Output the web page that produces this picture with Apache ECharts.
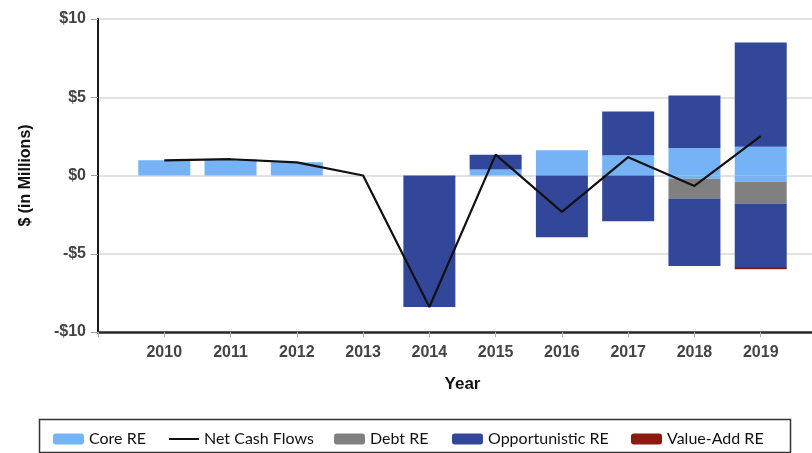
<!DOCTYPE html>
<html>
<head>
<meta charset="utf-8">
<title>Net Cash Flows by Strategy</title>
<script src="https://cdn.jsdelivr.net/npm/echarts@6/dist/echarts.min.js"></script>
<style>
  html, body { margin: 0; padding: 0; background: #ffffff; }
  #chart { width: 812px; height: 453px; }
</style>
</head>
<body>
<div id="chart"></div>
<script>
// Calendar years on the horizontal axis
const years = ['2010', '2011', '2012', '2013', '2014', '2015', '2016', '2017', '2018', '2019'];

// Cash flows in $ millions: distributions (positive) and contributions (negative)
const coreDist        = [0.97, 1.04, 0.84, 0, 0, 0.38, 1.62, 1.30, 1.76, 1.83];
const coreContrib     = [0, 0, 0, 0, 0, 0, 0, 0, -0.21, -0.40];
const debtContrib     = [0, 0, 0, 0, 0, 0, 0, 0, -1.26, -1.39];
const oppDist         = [0, 0, 0, 0, 0, 0.95, 0, 2.79, 3.35, 6.67];
const oppContrib      = [0, 0, 0, 0, -8.4, 0, -3.94, -2.92, -4.31, -4.05];
const valueAddContrib = [0, 0, 0, 0, 0, 0, 0, 0, 0, -0.15];
const netCashFlows    = [0.97, 1.04, 0.84, 0, -8.4, 1.33, -2.32, 1.17, -0.67, 2.51];

// Value axis ticks
const yTicks = [-10, -5, 0, 5, 10];

const COLORS = {
  core: '#76b3f6',
  debt: '#808080',
  opp: '#33479a',
  valueAdd: '#8b1a10',
  net: '#111111'
};

// The axis runs one empty slot before 2010 and one after 2019
const categories = [''].concat(years, ['']);
const pad = arr => [null].concat(arr.map(v => (v === 0 ? null : v)), [null]);
const padLine = arr => [null].concat(arr, [null]);

const fmtMoney = v => (v < 0 ? '-$' + Math.abs(v) : '$' + v);

const chart = echarts.init(document.getElementById('chart'), null, { renderer: 'canvas' });

const BAR_W = 52;
const barSeries = (name, data, color) => ({
  name: name,
  type: 'bar',
  stack: 'flows',
  barWidth: BAR_W,
  data: pad(data),
  itemStyle: { color: color },
  emphasis: { disabled: true },
  z: 2
});

const legendBase = {
  top: 431,
  itemWidth: 31,
  itemHeight: 11,
  padding: 0,
  selectedMode: false,
  textStyle: { fontFamily: 'Lato', fontSize: 16, color: '#111111' }
};

chart.setOption({
  animation: false,
  backgroundColor: '#ffffff',
  grid: { left: 98, top: 19, width: 729, height: 313, containLabel: false, outerBoundsMode: 'none' },
  xAxis: {
    type: 'category',
    data: categories,
    boundaryGap: false,
    name: 'Year',
    nameLocation: 'middle',
    nameGap: 44,
    nameTextStyle: { fontFamily: 'Liberation Sans', fontSize: 17, fontWeight: 'bold', color: '#111111' },
    axisLine: { show: true, onZero: false, lineStyle: { color: '#2a2a2a', width: 2.5 } },
    axisTick: { show: true, interval: 0, length: 5, lineStyle: { color: '#b0b0b0', width: 1 } },
    axisLabel: {
      interval: 0,
      margin: 13,
      fontFamily: 'Liberation Sans',
      fontSize: 16,
      fontWeight: 'bold',
      color: '#444444'
    },
    splitLine: { show: false }
  },
  yAxis: {
    type: 'value',
    min: yTicks[0],
    max: yTicks[yTicks.length - 1],
    interval: 5,
    name: '$ (in Millions)',
    nameLocation: 'middle',
    nameGap: 64,
    nameRotate: 90,
    nameTextStyle: { fontFamily: 'Liberation Sans', fontSize: 16, fontWeight: 'bold', color: '#111111' },
    axisLine: { show: true, lineStyle: { color: '#1a1a1a', width: 2 } },
    axisTick: { show: true, length: 7, lineStyle: { color: '#a0a0a0', width: 1 } },
    axisLabel: {
      margin: 12,
      fontFamily: 'Liberation Sans',
      fontSize: 16,
      fontWeight: 'bold',
      color: '#444444',
      formatter: fmtMoney
    },
    splitLine: { show: true, lineStyle: { color: '#d9d9d9', width: 1.5 } }
  },
  legend: [
    Object.assign({}, legendBase, { left: 53, data: ['Core RE'] }),
    Object.assign({}, legendBase, {
      left: 168,
      itemWidth: 30,
      data: [{ name: 'Net Cash Flows', itemStyle: { opacity: 0 } }]
    }),
    Object.assign({}, legendBase, { left: 334, data: ['Debt RE'] }),
    Object.assign({}, legendBase, { left: 452, data: ['Opportunistic RE'] }),
    Object.assign({}, legendBase, { left: 631, data: ['Value-Add RE'] })
  ],
  graphic: [{
    type: 'rect',
    silent: true,
    shape: { x: 39.5, y: 419.5, width: 751, height: 33 },
    style: { fill: 'none', stroke: '#333333', lineWidth: 1.5 }
  }],
  series: [
    barSeries('Core RE', coreDist, COLORS.core),
    barSeries('Core RE', coreContrib, COLORS.core),
    barSeries('Debt RE', debtContrib, COLORS.debt),
    barSeries('Opportunistic RE', oppDist, COLORS.opp),
    barSeries('Opportunistic RE', oppContrib, COLORS.opp),
    barSeries('Value-Add RE', valueAddContrib, COLORS.valueAdd),
    {
      name: 'Net Cash Flows',
      type: 'line',
      data: padLine(netCashFlows),
      symbol: 'none',
      connectNulls: false,
      lineStyle: { color: COLORS.net, width: 2.2 },
      itemStyle: { color: COLORS.net },
      emphasis: { disabled: true },
      z: 5
    }
  ]
});
</script>
</body>
</html>
